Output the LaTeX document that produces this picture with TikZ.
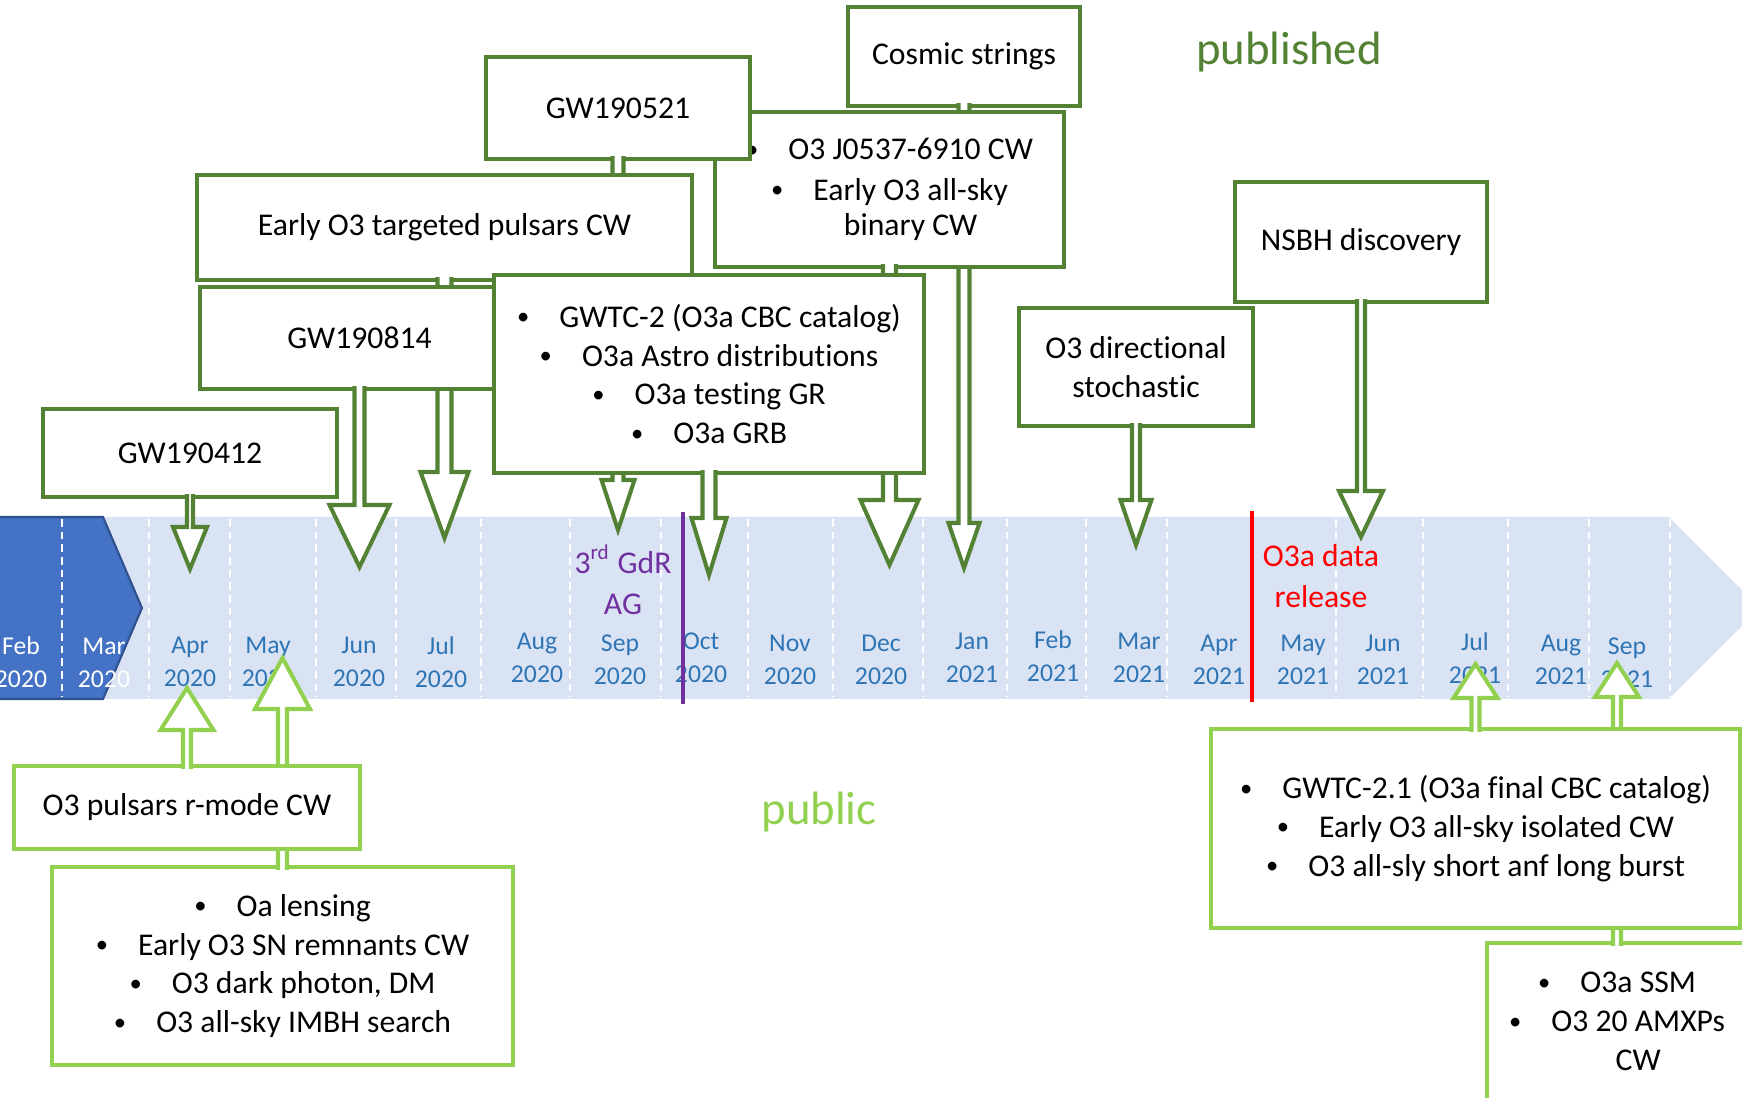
\documentclass[tikz,border=0pt]{standalone}
\usepackage{fontspec}
\setmainfont{Carlito}[Ligatures=NoCommon]
\usepackage{tikz}
\usetikzlibrary{calc}

\definecolor{pubgreen}{RGB}{84,130,53}
\definecolor{publicgreen}{RGB}{146,208,80}
\definecolor{bandblue}{RGB}{218,227,243}
\definecolor{runblue}{RGB}{68,114,196}
\definecolor{runedge}{RGB}{47,82,143}
\definecolor{monthblue}{RGB}{46,117,182}
\definecolor{gdrpurple}{RGB}{112,48,160}
\definecolor{releasered}{RGB}{255,0,0}

\newcommand{\itm}{\raisebox{0.7pt}{\fontsize{7}{7}\selectfont\textbullet}\hspace{0.95em}}
\newcommand{\itmc}{\phantom{\itm}}
% callout arrow: style, box anchor, tip, shaft half width, head half width, head length, inset
\newcommand{\callarrow}[7]{%
  \draw[#1] ($(#2)+(-#4,#7)$) -- ($(#3)+(-#4,#6)$) -- ($(#3)+(-#5,#6)$) -- (#3)
    -- ($(#3)+(#5,#6)$) -- ($(#3)+(#4,#6)$) -- ($(#2)+(#4,#7)$);}

\begin{document}
\begin{tikzpicture}[x=0.01cm, y=-0.01cm,
  pubbox/.style={draw=pubgreen, line width=1.15pt, fill=white, outer sep=0pt, inner sep=0pt,
    align=center, font=\fontsize{9}{11}\selectfont},
  publicbox/.style={pubbox, draw=publicgreen},
  pubarrow/.style={draw=pubgreen, line width=1.15pt, fill=white, line join=miter},
  publicarrow/.style={pubarrow, draw=publicgreen},
  month/.style={align=center, text=monthblue, inner sep=0pt, font=\fontsize{7.3}{9.4}\selectfont},
  monthsep/.style={white, line width=0.5pt, dash pattern=on 2.2pt off 1.4pt},
  marker/.style={align=center, inner sep=0pt, font=\fontsize{9}{11.7}\selectfont}]
  \useasboundingbox (0,0) rectangle (1742,1098);
  \clip (0,0) rectangle (1742,1098);

  % timeline band
  \fill[bandblue] (0,517) -- (1669,517) -- (1760,608) -- (1669,699) -- (0,699) -- cycle;
  \filldraw[fill=runblue, draw=runedge, line width=0.6pt] (-5,517) -- (103,517) -- (142,608) -- (103,699) -- (-5,699) -- cycle;
  \foreach \x in {62,149,230,316,396,481,570,661,748,833,923,1007,1086,1167,1252,1336,1423,1508,1589,1670}
    \draw[monthsep] (\x,519) -- (\x,697);

  % months
  \node[month, text=white] (feb20) at (21,662) {Feb\\2020};
  \node[month, text=white] (mar20) at (104,663) {Mar\\2020};
  \foreach \x/\y/\m/\yr [count=\i] in {190/662/Apr/2020, 268/662/May/2020, 359/662/Jun/2020,
      441/662/Jul/2020, 537/658/Aug/2020, 620/660/Sep/2020, 701/658/Oct/2020, 790/660/Nov/2020,
      881/660/Dec/2020, 972/658/Jan/2021, 1053/656/Feb/2021, 1139/658/Mar/2021, 1219/660/Apr/2021,
      1303/660/May/2021, 1383/660/Jun/2021, 1475/658/Jul/2021, 1561/660/Aug/2021, 1627/663/Sep/2021}
    \node[month] (month\i) at (\x,\y) {\m\\\yr};

  % markers
  \draw[gdrpurple, line width=1.1pt] (683,512) -- (683,704);
  \node[marker, text=gdrpurple] (gdr) at (623,580) {3\textsuperscript{rd} GdR\\AG};
  \draw[releasered, line width=1.4pt] (1252,511) -- (1252,702);
  \node[marker, text=releasered] (release) at (1321,576) {O3a data\\release};

  \node[font=\fontsize{13.3}{16}\selectfont, text=pubgreen] (published) at (1289,52) {published};
  \node[font=\fontsize{13.3}{16}\selectfont, text=publicgreen] (public) at (819,812) {public};

  % published
  \node[pubbox, minimum width=2.32cm, minimum height=0.99cm] (cosmic) at (964,56.5) {Cosmic strings};
  \coordinate (jan21) at (964,568);
  \callarrow{pubarrow}{cosmic.south}{jan21}{5.5}{15.5}{-45}{-3}

  \node[pubbox, minimum width=3.49cm, minimum height=1.55cm] (j0537) at (889.5,189.5)
    {\itm O3 J0537-6910 CW\\[0.5pt]\itm Early O3 all-sky\\[-1pt]\itmc binary CW};
  \coordinate (dec20) at (889.5,565);
  \callarrow{pubarrow}{j0537.south}{dec20}{6.5}{29}{-65}{-3}

  \node[pubbox, minimum width=2.64cm, minimum height=1.02cm] (gw521) at (618,108) {GW190521};
  \coordinate (sep20) at (618,530);
  \callarrow{pubarrow}{gw521.south}{sep20}{5.5}{16.5}{-50}{-3}

  \node[pubbox, minimum width=4.95cm, minimum height=1.05cm] (early) at (444.5,227.5) {Early O3 targeted pulsars CW};
  \coordinate (jul20) at (444.5,538);
  \callarrow{pubarrow}{early.south}{jul20}{7}{24}{-66}{-3}

  \node[pubbox, minimum width=3.19cm, minimum height=1.02cm] (gw814) at (359.5,338) {GW190814};
  \coordinate (jun20) at (359.5,567);
  \callarrow{pubarrow}{gw814.south}{jun20}{5}{30}{-62}{-3}

  \node[pubbox, minimum width=4.30cm, minimum height=1.98cm] (gwtc2) at (709,374)
    {\itm GWTC-2 (O3a CBC catalog)\\\itm O3a Astro distributions\\\itm O3a testing GR\\\itm O3a GRB};
  \coordinate (oct20) at (709,575);
  \callarrow{pubarrow}{gwtc2.south}{oct20}{6.5}{17.5}{-57}{-3}

  \node[pubbox, minimum width=2.94cm, minimum height=0.88cm] (gw412) at (190,453) {GW190412};
  \coordinate (apr20) at (190,569);
  \callarrow{pubarrow}{gw412.south}{apr20}{3}{17}{-42}{-3}

  \node[pubbox, minimum width=2.34cm, minimum height=1.18cm] (o3dir) at (1136,367) {O3 directional\\stochastic};
  \coordinate (mar21) at (1136,545);
  \callarrow{pubarrow}{o3dir.south}{mar21}{4}{15.5}{-45}{-3}

  \node[pubbox, minimum width=2.52cm, minimum height=1.20cm] (nsbh) at (1361,242) {NSBH discovery};
  \coordinate (may21) at (1361,537);
  \callarrow{pubarrow}{nsbh.south}{may21}{4}{22}{-46}{-3}

  % public
  \node[publicbox, minimum width=2.60cm, minimum height=1.57cm] (ssm) at (1617,1021.5)
    {\itm O3a SSM\\\itm O3 20 AMXPs\\\itmc CW};
  \coordinate (sep21) at (1617,663);
  \callarrow{publicarrow}{ssm.north}{sep21}{4}{22}{34}{3}

  \node[publicbox, minimum width=5.29cm, minimum height=1.99cm] (gwtc21) at (1475.5,828.5)
    {\itm GWTC-2.1 (O3a final CBC catalog)\\\itm Early O3 all-sky isolated CW\\\itm O3 all-sly short anf long burst};
  \coordinate (jul21) at (1475.5,664);
  \callarrow{publicarrow}{gwtc21.north}{jul21}{4}{22}{34}{3}

  \node[publicbox, minimum width=4.61cm, minimum height=1.98cm] (lensing) at (282.5,966)
    {\itm Oa lensing\\\itm Early O3 SN remnants CW\\\itm O3 dark photon, DM\\\itm O3 all-sky IMBH search};
  \coordinate (may20) at (282.5,658);
  \callarrow{publicarrow}{lensing.north}{may20}{4.5}{27.5}{51}{3}

  \node[publicbox, minimum width=3.46cm, minimum height=0.83cm] (rmode) at (187,807.5) {O3 pulsars r-mode CW};
  \coordinate (apr20u) at (187,688);
  \callarrow{publicarrow}{rmode.north}{apr20u}{4}{26.5}{42}{3}
\end{tikzpicture}
\end{document}
